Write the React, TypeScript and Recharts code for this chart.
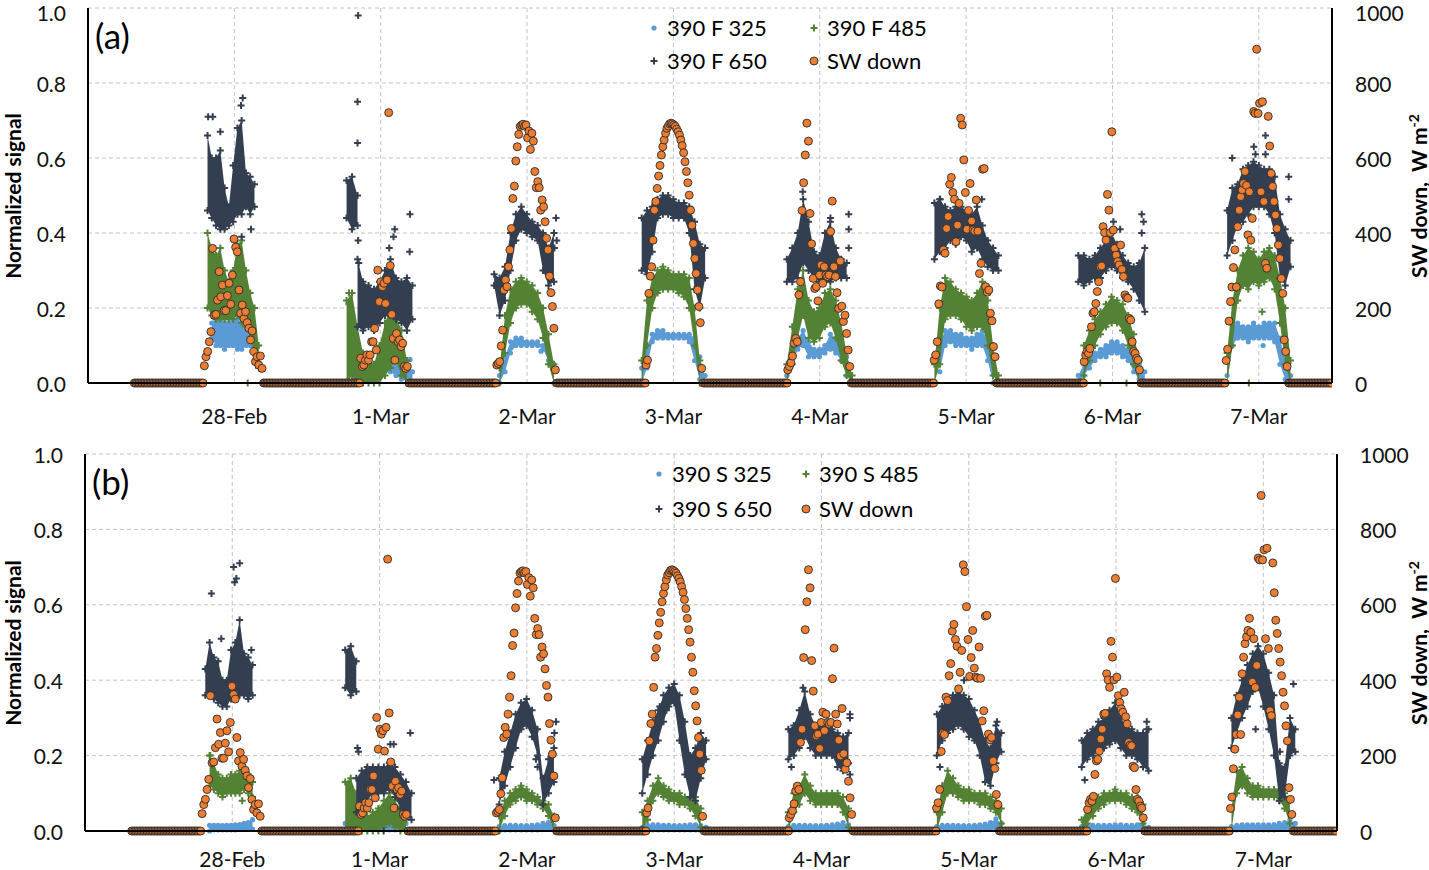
import React from "react";
import { Area, CartesianGrid, ComposedChart, Scatter, XAxis, YAxis } from "recharts";

const FONT = "Lato, 'Open Sans', sans-serif";
const BLUE = "#5B9BD5";
const GREEN = "#548235";
const NAVY = "#333F50";
const ORANGE = "#ED7D31";

// x axis: days since 27-Feb 00:00, gridline at each date
const dayLabels = ["28-Feb", "1-Mar", "2-Mar", "3-Mar", "4-Mar", "5-Mar", "6-Mar", "7-Mar"];
const dayTicks = [1, 2, 3, 4, 5, 6, 7, 8];
const signalTicks = [0, 0.2, 0.4, 0.6, 0.8, 1.0];
const swTicks = [0, 200, 400, 600, 800, 1000];

// daylight window of the signals (hours from the date gridline), 13 samples per day
const sigWin = [
  [-4.4, 4.0], [-5.6, 5.2], [-5.4, 5.3], [-5.2, 5.2],
  [-5.4, 5.3], [-5.2, 5.3], [-5.6, 5.3], [-5.2, 5.2],
];

type Pair = [number, number] | null;

// panel (a): 390 F, [low, high] of the point cloud at each sample
const f325: Pair[][] = [
  [null, [0.12, 0.16], [0.10, 0.17], [0.10, 0.17], [0.09, 0.16], [0.10, 0.16], [0.10, 0.17], [0.09, 0.17], [0.09, 0.16], [0.10, 0.15], [0.10, 0.14], [0.09, 0.12], null],
  [null, [0.00, 0.10], [0.00, 0.08], [0.01, 0.05], [0.02, 0.05], [0.02, 0.05], [0.02, 0.06], [0.03, 0.07], [0.03, 0.08], [0.02, 0.06], [0.01, 0.05], [0.01, 0.06], [0.00, 0.03]],
  [null, [0.00, 0.02], [0.03, 0.07], [0.08, 0.11], [0.10, 0.12], [0.10, 0.12], [0.10, 0.11], [0.10, 0.11], [0.10, 0.11], [0.09, 0.10], [0.06, 0.09], [0.00, 0.05], null],
  [[0.00, 0.04], [0.04, 0.10], [0.11, 0.13], [0.12, 0.14], [0.12, 0.14], [0.12, 0.13], [0.12, 0.13], [0.12, 0.13], [0.12, 0.13], [0.11, 0.13], [0.06, 0.12], [0.01, 0.07], [0.00, 0.02]],
  [[0.00, 0.02], [0.05, 0.09], [0.09, 0.12], [0.10, 0.14], [0.07, 0.11], [0.07, 0.09], [0.07, 0.09], [0.08, 0.10], [0.09, 0.13], [0.08, 0.12], [0.06, 0.10], [0.02, 0.07], null],
  [null, [0.03, 0.10], [0.10, 0.14], [0.11, 0.14], [0.10, 0.13], [0.10, 0.13], [0.10, 0.12], [0.09, 0.12], [0.10, 0.13], [0.10, 0.14], [0.06, 0.11], [0.00, 0.05], null],
  [[0.00, 0.02], [0.02, 0.05], [0.04, 0.07], [0.06, 0.08], [0.07, 0.09], [0.07, 0.10], [0.08, 0.11], [0.08, 0.11], [0.07, 0.10], [0.06, 0.09], [0.03, 0.07], [0.01, 0.05], [0.00, 0.03]],
  [[0.00, 0.02], [0.10, 0.15], [0.12, 0.16], [0.12, 0.15], [0.11, 0.15], [0.12, 0.16], [0.12, 0.15], [0.12, 0.16], [0.12, 0.16], [0.11, 0.16], [0.05, 0.12], [0.01, 0.06], [0.00, 0.02]],
];
const f485: Pair[][] = [
  [[0.20, 0.40], [0.18, 0.36], [0.17, 0.34], [0.17, 0.36], [0.17, 0.30], [0.17, 0.27], [0.17, 0.30], [0.18, 0.37], [0.16, 0.38], [0.15, 0.30], [0.12, 0.24], [0.08, 0.20], [0.04, 0.10]],
  [[0.00, 0.22], [0.02, 0.24], [0.00, 0.15], [0.00, 0.08], [0.00, 0.05], [0.00, 0.05], [0.00, 0.10], [0.02, 0.16], [0.04, 0.20], [0.06, 0.18], [0.02, 0.14], [0.00, 0.06], null],
  [null, [0.00, 0.04], [0.08, 0.18], [0.16, 0.25], [0.20, 0.27], [0.21, 0.28], [0.21, 0.27], [0.19, 0.26], [0.17, 0.24], [0.12, 0.20], [0.05, 0.13], [0.00, 0.05], null],
  [[0.00, 0.06], [0.10, 0.22], [0.20, 0.28], [0.24, 0.30], [0.25, 0.31], [0.25, 0.30], [0.25, 0.29], [0.24, 0.29], [0.23, 0.29], [0.20, 0.28], [0.10, 0.20], [0.00, 0.06], null],
  [[0.00, 0.05], [0.05, 0.15], [0.12, 0.25], [0.18, 0.30], [0.12, 0.22], [0.11, 0.19], [0.12, 0.20], [0.15, 0.24], [0.16, 0.25], [0.12, 0.22], [0.06, 0.16], [0.02, 0.08], [0.00, 0.02]],
  [[0.00, 0.05], [0.05, 0.20], [0.17, 0.28], [0.18, 0.27], [0.18, 0.25], [0.17, 0.24], [0.15, 0.23], [0.14, 0.22], [0.15, 0.24], [0.15, 0.27], [0.10, 0.22], [0.02, 0.10], [0.00, 0.02]],
  [null, [0.02, 0.10], [0.06, 0.14], [0.10, 0.17], [0.13, 0.19], [0.15, 0.21], [0.16, 0.23], [0.16, 0.22], [0.14, 0.21], [0.10, 0.18], [0.05, 0.13], [0.00, 0.06], null],
  [[0.00, 0.08], [0.10, 0.22], [0.22, 0.30], [0.26, 0.34], [0.25, 0.36], [0.27, 0.35], [0.26, 0.33], [0.27, 0.35], [0.28, 0.36], [0.25, 0.34], [0.16, 0.28], [0.05, 0.20], [0.00, 0.06]],
];
const f650: Pair[][] = [
  [[0.46, 0.66], [0.44, 0.60], [0.42, 0.60], [0.41, 0.62], [0.41, 0.52], [0.42, 0.47], [0.43, 0.58], [0.45, 0.68], [0.45, 0.70], [0.47, 0.56], [0.45, 0.55], [0.47, 0.53], null],
  [null, null, [0.15, 0.33], [0.14, 0.27], [0.15, 0.26], [0.14, 0.25], [0.16, 0.27], [0.18, 0.30], [0.18, 0.33], [0.17, 0.28], [0.16, 0.27], [0.14, 0.28], [0.17, 0.26]],
  [[0.26, 0.29], [0.18, 0.28], [0.22, 0.31], [0.30, 0.40], [0.38, 0.45], [0.41, 0.47], [0.40, 0.45], [0.39, 0.43], [0.38, 0.42], [0.30, 0.40], [0.26, 0.36], [0.27, 0.40], null],
  [[0.30, 0.44], [0.29, 0.46], [0.35, 0.47], [0.44, 0.49], [0.45, 0.50], [0.45, 0.50], [0.44, 0.49], [0.44, 0.48], [0.44, 0.48], [0.40, 0.47], [0.25, 0.43], [0.20, 0.37], [0.28, 0.36]],
  [[0.27, 0.33], [0.27, 0.36], [0.28, 0.40], [0.32, 0.49], [0.30, 0.43], [0.28, 0.35], [0.27, 0.34], [0.27, 0.40], [0.27, 0.43], [0.28, 0.36], [0.28, 0.33], [0.28, 0.32], null],
  [[0.33, 0.48], [0.35, 0.49], [0.36, 0.47], [0.38, 0.46], [0.37, 0.47], [0.39, 0.47], [0.38, 0.46], [0.35, 0.45], [0.36, 0.47], [0.33, 0.42], [0.31, 0.38], [0.30, 0.36], [0.30, 0.34]],
  [[0.27, 0.34], [0.26, 0.34], [0.27, 0.33], [0.28, 0.34], [0.28, 0.36], [0.30, 0.38], [0.31, 0.40], [0.30, 0.37], [0.28, 0.34], [0.27, 0.32], [0.25, 0.31], [0.22, 0.32], [0.19, 0.36]],
  [[0.34, 0.46], [0.38, 0.52], [0.42, 0.53], [0.43, 0.57], [0.45, 0.58], [0.47, 0.59], [0.47, 0.58], [0.47, 0.57], [0.45, 0.57], [0.40, 0.55], [0.28, 0.45], [0.26, 0.41], [0.31, 0.38]],
];
// separate early-morning 650 cluster on 1-Mar: [day, sample, low, high]
const f650Early = [[1, 0, 0.44, 0.54], [1, 1, 0.41, 0.55], [1, 2, 0.42, 0.50]];

// panel (b): 390 S
const s325: Pair[][] = [
  [null, [0, 0.015], [0.003, 0.015], [0.003, 0.015], [0.003, 0.014], [0.003, 0.015], [0.003, 0.015], [0.003, 0.016], [0.004, 0.017], [0.004, 0.02], [0.004, 0.022], [0.005, 0.03], null],
  [[0, 0.02], [0, 0.05], [0, 0.03], [0.003, 0.02], [0.003, 0.018], [0.003, 0.018], [0.003, 0.02], [0.003, 0.02], [0.003, 0.02], [0.003, 0.02], [0.003, 0.018], [0.003, 0.02], null],
  [null, [0, 0.012], [0.003, 0.014], [0.003, 0.015], [0.003, 0.015], [0.003, 0.014], [0.003, 0.014], [0.003, 0.015], [0.003, 0.016], [0.004, 0.02], [0.004, 0.022], [0.002, 0.015], null],
  [[0, 0.01], [0.002, 0.015], [0.003, 0.016], [0.003, 0.016], [0.003, 0.015], [0.003, 0.015], [0.003, 0.014], [0.003, 0.014], [0.003, 0.015], [0.003, 0.016], [0.003, 0.016], [0.002, 0.014], [0, 0.01]],
  [[0, 0.012], [0.003, 0.015], [0.003, 0.015], [0.003, 0.015], [0.003, 0.014], [0.003, 0.014], [0.003, 0.014], [0.003, 0.015], [0.003, 0.016], [0.004, 0.018], [0.004, 0.022], [0.003, 0.016], null],
  [[0, 0.012], [0.003, 0.015], [0.003, 0.015], [0.003, 0.015], [0.003, 0.014], [0.003, 0.014], [0.003, 0.014], [0.003, 0.015], [0.003, 0.016], [0.004, 0.018], [0.004, 0.022], [0.005, 0.032], [0.003, 0.02]],
  [[0, 0.012], [0.003, 0.015], [0.003, 0.015], [0.003, 0.015], [0.003, 0.015], [0.003, 0.015], [0.003, 0.016], [0.003, 0.016], [0.003, 0.015], [0.003, 0.015], [0.003, 0.016], [0.003, 0.018], [0, 0.01]],
  [[0, 0.012], [0.003, 0.015], [0.003, 0.016], [0.003, 0.016], [0.003, 0.016], [0.003, 0.016], [0.003, 0.016], [0.003, 0.016], [0.003, 0.017], [0.004, 0.02], [0.004, 0.022], [0.005, 0.03], [0.003, 0.02]],
];
const s485: Pair[][] = [
  [null, [0.12, 0.20], [0.11, 0.18], [0.10, 0.15], [0.09, 0.14], [0.10, 0.14], [0.10, 0.15], [0.10, 0.15], [0.10, 0.16], [0.11, 0.16], [0.10, 0.15], [0.09, 0.13], null],
  [[0.00, 0.13], [0.00, 0.14], [0.00, 0.10], [0.00, 0.06], [0.00, 0.04], [0.00, 0.05], [0.00, 0.06], [0.01, 0.08], [0.02, 0.10], [0.01, 0.08], [0.00, 0.06], [0.00, 0.03], null],
  [null, [0.00, 0.04], [0.04, 0.08], [0.07, 0.10], [0.08, 0.11], [0.09, 0.12], [0.08, 0.11], [0.08, 0.10], [0.07, 0.09], [0.06, 0.08], [0.04, 0.07], [0.00, 0.04], null],
  [[0.00, 0.05], [0.03, 0.08], [0.08, 0.12], [0.10, 0.14], [0.09, 0.12], [0.08, 0.11], [0.08, 0.10], [0.07, 0.10], [0.07, 0.09], [0.06, 0.09], [0.04, 0.09], [0.01, 0.06], null],
  [[0.00, 0.05], [0.05, 0.10], [0.07, 0.12], [0.10, 0.15], [0.08, 0.12], [0.07, 0.10], [0.07, 0.10], [0.07, 0.10], [0.07, 0.10], [0.07, 0.10], [0.05, 0.09], [0.01, 0.06], null],
  [[0.00, 0.05], [0.05, 0.12], [0.10, 0.16], [0.10, 0.14], [0.09, 0.12], [0.08, 0.11], [0.08, 0.11], [0.08, 0.10], [0.07, 0.10], [0.07, 0.10], [0.06, 0.09], [0.05, 0.08], [0.02, 0.06]],
  [[0.00, 0.03], [0.02, 0.06], [0.04, 0.08], [0.06, 0.09], [0.07, 0.10], [0.08, 0.10], [0.08, 0.11], [0.08, 0.10], [0.07, 0.10], [0.06, 0.09], [0.05, 0.09], [0.02, 0.07], null],
  [[0.00, 0.06], [0.10, 0.16], [0.12, 0.17], [0.10, 0.14], [0.09, 0.12], [0.09, 0.12], [0.09, 0.11], [0.09, 0.11], [0.09, 0.11], [0.08, 0.11], [0.06, 0.10], [0.02, 0.08], null],
];
const s650: Pair[][] = [
  [[0.36, 0.43], [0.37, 0.50], [0.35, 0.46], [0.34, 0.45], [0.33, 0.40], [0.33, 0.40], [0.35, 0.48], [0.36, 0.50], [0.36, 0.56], [0.36, 0.47], [0.35, 0.46], [0.36, 0.44], null],
  [null, null, [0.05, 0.14], [0.06, 0.16], [0.08, 0.17], [0.10, 0.17], [0.10, 0.17], [0.10, 0.17], [0.11, 0.18], [0.09, 0.17], [0.06, 0.15], [0.04, 0.13], [0.03, 0.10]],
  [null, [0.07, 0.14], [0.12, 0.21], [0.17, 0.26], [0.22, 0.31], [0.27, 0.34], [0.28, 0.35], [0.25, 0.32], [0.20, 0.27], [0.07, 0.14], [0.10, 0.19], [0.13, 0.22], null],
  [[0.10, 0.19], [0.15, 0.24], [0.20, 0.29], [0.24, 0.32], [0.29, 0.36], [0.33, 0.38], [0.34, 0.39], [0.24, 0.36], [0.15, 0.29], [0.09, 0.20], [0.08, 0.22], [0.14, 0.26], [0.19, 0.24]],
  [[0.19, 0.27], [0.20, 0.28], [0.22, 0.32], [0.25, 0.37], [0.22, 0.31], [0.20, 0.28], [0.20, 0.29], [0.20, 0.28], [0.20, 0.27], [0.17, 0.26], [0.16, 0.25], [0.18, 0.26], null],
  [[0.20, 0.31], [0.24, 0.33], [0.26, 0.35], [0.27, 0.36], [0.28, 0.37], [0.27, 0.36], [0.25, 0.35], [0.24, 0.32], [0.20, 0.29], [0.13, 0.24], [0.12, 0.22], [0.18, 0.28], [0.21, 0.26]],
  [[0.17, 0.24], [0.19, 0.26], [0.20, 0.27], [0.21, 0.29], [0.22, 0.30], [0.23, 0.32], [0.24, 0.34], [0.22, 0.30], [0.20, 0.28], [0.20, 0.27], [0.19, 0.26], [0.17, 0.26], [0.16, 0.27]],
  [[0.22, 0.30], [0.26, 0.36], [0.30, 0.40], [0.33, 0.44], [0.37, 0.47], [0.38, 0.49], [0.33, 0.47], [0.27, 0.42], [0.20, 0.36], [0.08, 0.18], [0.09, 0.17], [0.20, 0.30], [0.21, 0.27]],
];
const s650Early = [[1, 0, 0.38, 0.48], [1, 1, 0.36, 0.49], [1, 2, 0.37, 0.45]];

// stray points: [day index, hour from gridline, value]
const fOut325 = [[1, 4.8, 0.063], [2, 2.3, 0.085], [7, 0.7, 0.10], [7, 2.35, 0.12]];
const fOut485 = [[0, 2.19, 0], [1, -5.2, 0.24], [1, -5.2, 0.21], [6, -2.0, 0], [6, 2.3, 0], [7, -1.64, 0], [7, 0.55, 0.19]];
const fOut650 = [
  [0, -4.3, 0.71], [0, -3.55, 0.71], [0, -2.3, 0.67], [0, 1.37, 0.76], [0, 1.1, 0.74], [0, 2.73, 0.41], [0, 1.2, 0.39],
  [1, -3.7, 0.98], [1, -3.8, 0.75], [1, -3.8, 0.64], [1, 4.8, 0.45], [1, 2.3, 0.41], [1, 2.1, 0.39], [1, 4.75, 0.35], [1, 1.4, 0.36], [1, -3.7, 0.38], [1, -3.6, 0.32],
  [2, 4.75, 0.44], [2, 4.86, 0.38], [2, 4.5, 0.36],
  [4, 4.75, 0.45], [4, 4.75, 0.41], [4, 4.75, 0.36], [4, -2.8, 0.51], [4, 1.75, 0.44],
  [5, -4.26, 0.49], [5, 2.57, 0.49],
  [6, 4.8, 0.45], [6, 4.8, 0.40], [6, 5.1, 0.43], [6, 0.16, 0.43], [6, 1.26, 0.41],
  [7, -4.37, 0.6], [7, -0.82, 0.63], [7, 1.09, 0.66], [7, 1.09, 0.61], [7, -0.55, 0.61], [7, 4.9, 0.55], [7, 4.9, 0.49],
];
const sOut325: number[][] = [];
const sOut485 = [[0, -3.6, 0.20], [0, 1.6, 0.08]];
const sOut650 = [
  [0, -3.4, 0.63], [0, -1.8, 0.51], [0, 0.22, 0.70], [0, 1.2, 0.71], [0, 0.38, 0.66], [0, 0.66, 0.67], [0, 3.1, 0.48],
  [1, -3.6, 0.22], [1, -3.44, 0.21], [1, 1.75, 0.23], [1, 2.3, 0.23], [1, 5.0, 0.26], [1, 0.66, 0.0],
  [2, -5.36, 0.135], [2, 1.48, 0.19], [2, 1.75, 0.17], [2, 4.75, 0.29], [2, 4.48, 0.26],
  [3, -2.35, 0.33], [3, -1.26, 0.32],
  [4, -4.9, 0.17], [4, -3.0, 0.38], [4, 4.64, 0.31], [4, 4.64, 0.30], [4, 4.64, 0.15],
  [5, -4.7, 0.17], [5, -0.77, 0.40], [5, 4.6, 0.29],
  [6, -5.1, 0.135], [6, 5.0, 0.29], [6, 5.0, 0.27],
  [7, -1.26, 0.27], [7, 4.9, 0.39], [7, 2.2, 0.21], [7, 2.7, 0.21],
];

// SW down (W m-2), 15-min record; zero at night
const swRecordStart = -16.4; // hours from the 28-Feb gridline
const swStart = [-4.92, -3.28, -4.97, -4.48, -5.25, -5.25, -4.64, -5.36];
const swEnd = [4.54, 4.37, 4.64, 4.64, 4.92, 4.75, 4.43, 4.64];
const swDay = [
  [46, 70, 84, 110, 137, 359, 181, 183, 221, 297, 230, 261, 193, 193, 233, 266, 210, 288, 384, 362, 350, 248, 186, 208, 172, 190, 161, 146, 115, 139, 84, 57, 70, 48, 72, 39],
  [66, 44, 48, 61, 75, 61, 75, 110, 110, 146, 88, 301, 217, 270, 257, 266, 212, 275, 721, 313, 183, 119, 61, 132, 110, 115, 97, 106, 44, 39, 44],
  [48, 52, 57, 99, 141, 248, 275, 257, 310, 355, 412, 492, 525, 592, 630, 663, 684, 688, 690, 685, 688, 654, 672, 623, 666, 645, 564, 521, 537, 521, 461, 488, 470, 430, 386, 355, 285, 241, 204, 146, 35],
  [48, 61, 239, 285, 310, 381, 461, 484, 519, 552, 580, 608, 630, 648, 666, 679, 685, 691, 693, 691, 688, 684, 677, 670, 661, 648, 633, 614, 590, 564, 534, 501, 461, 421, 372, 332, 292, 248, 204, 161, 39],
  [35, 44, 54, 72, 106, 119, 110, 235, 270, 460, 534, 608, 693, 645, 452, 371, 279, 252, 257, 219, 288, 315, 266, 310, 288, 284, 288, 404, 485, 310, 284, 241, 199, 325, 205, 164, 181, 132, 88, 44],
  [61, 75, 110, 211, 259, 256, 355, 346, 412, 444, 530, 548, 508, 490, 377, 421, 479, 706, 688, 595, 508, 410, 460, 532, 432, 408, 405, 488, 405, 292, 319, 570, 572, 257, 242, 248, 186, 166, 97, 70],
  [57, 75, 84, 79, 92, 150, 186, 190, 212, 244, 270, 310, 312, 417, 401, 381, 503, 461, 401, 670, 408, 359, 341, 324, 315, 368, 303, 284, 235, 228, 226, 172, 168, 110, 84, 79, 66, 61, 35],
  [60, 90, 165, 217, 256, 308, 355, 256, 417, 461, 497, 515, 532, 564, 527, 395, 510, 381, 439, 724, 719, 890, 719, 746, 510, 750, 484, 319, 306, 711, 632, 559, 524, 484, 448, 412, 368, 332, 279, 239, 115, 84, 44],
];

const SAMPLES = 13;
const X_END = 8.5;

function sampleTime(d: number, i: number) {
  const [a, b] = sigWin[d];
  return d + 1 + (a + (i * (b - a)) / (SAMPLES - 1)) / 24;
}

function earlyAt(early: number[][], d: number, i: number): Pair {
  const hit = early.find((e) => e[0] === d && e[1] === i);
  return hit ? [hit[2], hit[3]] : null;
}

function buildTable(c325: Pair[][], c485: Pair[][], c650: Pair[][], early: number[][]) {
  const rows: any[] = [];
  for (let d = 0; d < 8; d++) {
    for (let i = 0; i < SAMPLES; i++) {
      rows.push({
        t: sampleTime(d, i),
        c325: c325[d][i],
        c485: c485[d][i],
        c650: c650[d][i],
        c650e: earlyAt(early, d, i),
      });
    }
    rows.push({ t: d + 1.5, c325: null, c485: null, c650: null, c650e: null });
  }
  return rows;
}

function edgePoints(series: Pair[][], extra: number[][], early: number[][] = []) {
  const pts: { t: number; v: number }[] = [];
  series.forEach((day, d) =>
    day.forEach((p, i) => {
      if (!p) return;
      const t = sampleTime(d, i);
      pts.push({ t, v: p[0] }, { t, v: p[1] });
    })
  );
  early.forEach(([d, i, lo, hi]) => {
    const t = sampleTime(d, i);
    pts.push({ t, v: lo }, { t, v: hi });
  });
  extra.forEach(([d, h, v]) => pts.push({ t: d + 1 + h / 24, v }));
  return pts;
}

function buildSw() {
  const step = 0.25 / 24;
  const pts: { t: number; v: number }[] = [];
  let cursor = 1 + swRecordStart / 24;
  for (let d = 0; d < 8; d++) {
    const a = d + 1 + swStart[d] / 24;
    const b = d + 1 + swEnd[d] / 24;
    for (let t = cursor; t < a - 1e-6; t += step) pts.push({ t, v: 0 });
    const vals = swDay[d];
    vals.forEach((v, i) => pts.push({ t: a + ((b - a) * i) / (vals.length - 1), v }));
    cursor = b + step;
  }
  for (let t = cursor; t <= X_END; t += step) pts.push({ t, v: 0 });
  return pts;
}

const swPoints = buildSw();

const plusShape = (color: string) => (p: any) =>
  p.cx == null ? <g /> : (
    <path
      d={`M${p.cx - 3.5},${p.cy}H${p.cx + 3.5}M${p.cx},${p.cy - 3.5}V${p.cy + 3.5}`}
      stroke={color}
      strokeWidth={2}
      fill="none"
    />
  );
const dotShape = (p: any) => (p.cx == null ? <g /> : <circle cx={p.cx} cy={p.cy} r={2.6} fill={BLUE} />);
const swShape = (p: any) =>
  p.cx == null ? <g /> : <circle cx={p.cx} cy={p.cy} r={4} fill={ORANGE} stroke="#2b2b2b" strokeWidth={0.9} />;

const axisLine = { stroke: "#000", strokeWidth: 2 };
const tickText = { fontFamily: FONT, fontSize: 21, fill: "#111" };

interface PanelProps {
  top: number;
  height: number;
  plotTop: number;
  minTickY: number;
  leftW: number;
  rightW: number;
  xAxisH: number;
  labelDy: number;
  table: any[];
  p325: { t: number; v: number }[];
  p485: { t: number; v: number }[];
  p650: { t: number; v: number }[];
  tag: string;
  names: string[];
  legendX: [number, number];
  legendY: [number, number];
}

function LegendMark({ kind }: { kind: string }) {
  return (
    <svg width={14} height={14} style={{ position: "absolute", left: -7, top: -7 }}>
      {kind === "dot" && <circle cx={7} cy={7} r={2.6} fill={BLUE} />}
      {kind === "green" && <path d="M3.5,7H10.5M7,3.5V10.5" stroke={GREEN} strokeWidth={2} />}
      {kind === "navy" && <path d="M3.5,7H10.5M7,3.5V10.5" stroke={NAVY} strokeWidth={2} />}
      {kind === "sw" && <circle cx={7} cy={7} r={4} fill={ORANGE} stroke="#2b2b2b" strokeWidth={0.9} />}
    </svg>
  );
}

function Panel(props: PanelProps) {
  const { top, height, plotTop, minTickY, leftW, rightW, xAxisH, labelDy, table, p325, p485, p650, tag, names, legendX, legendY } = props;
  const plotBottom = height - xAxisH;
  const midY = (plotTop + plotBottom) / 2;
  const tickY = (y: number) => Math.max(y, minTickY);
  const entries = [
    { kind: "dot", name: names[0], x: legendX[0], y: legendY[0] },
    { kind: "green", name: names[1], x: legendX[1], y: legendY[0] },
    { kind: "navy", name: names[2], x: legendX[0], y: legendY[1] },
    { kind: "sw", name: "SW down", x: legendX[1], y: legendY[1] },
  ];
  return (
    <div style={{ position: "absolute", left: 0, top, width: 1429, height }}>
      <ComposedChart width={1429} height={height} data={table} margin={{ top: plotTop, right: 0, bottom: 0, left: 0 }}>
        <CartesianGrid stroke="#c4c4c4" strokeDasharray="4 3" />
        <XAxis
          dataKey="t"
          type="number"
          domain={[0, X_END]}
          allowDataOverflow
          ticks={dayTicks}
          interval={0}
          height={xAxisH}
          tickLine={false}
          tickSize={0}
          tickMargin={0}
          axisLine={axisLine}
          tick={(tp: any) => (
            <text x={tp.x} y={tp.y + labelDy} textAnchor="middle" dominantBaseline="central" style={tickText}>
              {dayLabels[tp.payload.value - 1]}
            </text>
          )}
        />
        <XAxis
          xAxisId="top"
          orientation="top"
          type="number"
          domain={[0, X_END]}
          height={0}
          tick={false}
          tickLine={false}
          axisLine={axisLine}
        />
        <YAxis
          type="number"
          domain={[0, 1]}
          ticks={signalTicks}
          interval={0}
          width={leftW}
          tickLine={false}
          tickSize={0}
          tickMargin={0}
          axisLine={axisLine}
          tick={(tp: any) => (
            <text x={tp.x - 22} y={tickY(tp.y)} textAnchor="end" dominantBaseline="central" style={tickText}>
              {Number(tp.payload.value).toFixed(1)}
            </text>
          )}
        />
        <YAxis
          yAxisId="sw"
          orientation="right"
          type="number"
          domain={[0, 1000]}
          ticks={swTicks}
          interval={0}
          width={rightW}
          tickLine={false}
          tickSize={0}
          tickMargin={0}
          axisLine={axisLine}
          tick={(tp: any) => (
            <text x={tp.x + 23} y={tickY(tp.y)} textAnchor="start" dominantBaseline="central" style={tickText}>
              {tp.payload.value}
            </text>
          )}
        />
        <Area dataKey="c325" type="linear" stroke="none" fill={BLUE} fillOpacity={1} dot={false} activeDot={false} isAnimationActive={false} zIndex={101} />
        <Scatter data={p325} dataKey="v" shape={dotShape} isAnimationActive={false} zIndex={102} />
        <Area dataKey="c485" type="linear" stroke="none" fill={GREEN} fillOpacity={1} dot={false} activeDot={false} isAnimationActive={false} zIndex={103} />
        <Scatter data={p485} dataKey="v" shape={plusShape(GREEN)} isAnimationActive={false} zIndex={104} />
        <Area dataKey="c650" type="linear" stroke="none" fill={NAVY} fillOpacity={1} dot={false} activeDot={false} isAnimationActive={false} zIndex={105} />
        <Area dataKey="c650e" type="linear" stroke="none" fill={NAVY} fillOpacity={1} dot={false} activeDot={false} isAnimationActive={false} zIndex={105} />
        <Scatter data={p650} dataKey="v" shape={plusShape(NAVY)} isAnimationActive={false} zIndex={106} />
        <Scatter yAxisId="sw" data={swPoints} dataKey="v" shape={swShape} isAnimationActive={false} zIndex={107} />
      </ComposedChart>

      <div style={{ position: "absolute", left: leftW + 7, top: plotTop + 2, fontFamily: FONT, fontSize: 35, color: "#000", lineHeight: "50px" }}>
        {tag}
      </div>

      {entries.map((e) => (
        <div key={e.name} style={{ position: "absolute", left: e.x, top: e.y, width: 0, height: 0 }}>
          <LegendMark kind={e.kind} />
          <span
            style={{
              position: "absolute",
              left: 13,
              top: -15,
              fontFamily: FONT,
              fontSize: 22,
              lineHeight: "30px",
              whiteSpace: "nowrap",
              color: "#000",
            }}
          >
            {e.name}
          </span>
        </div>
      ))}

      <div
        style={{
          position: "absolute",
          left: 12,
          top: midY,
          transform: "translate(-50%, -50%) rotate(-90deg)",
          fontFamily: FONT,
          fontWeight: 700,
          fontSize: 21,
          whiteSpace: "nowrap",
          color: "#000",
        }}
      >
        Normalized signal
      </div>
      <div
        style={{
          position: "absolute",
          left: 1418,
          top: midY,
          transform: "translate(-50%, -50%) rotate(-90deg)",
          fontFamily: FONT,
          fontWeight: 700,
          fontSize: 21,
          whiteSpace: "nowrap",
          color: "#000",
        }}
      >
        SW down,&nbsp;&nbsp;W m<sup style={{ fontSize: 14 }}>-2</sup>
      </div>
    </div>
  );
}

const tableF = buildTable(f325, f485, f650, f650Early);
const tableS = buildTable(s325, s485, s650, s650Early);

export default function App() {
  return (
    <div style={{ position: "absolute", left: 0, top: 0, width: 1429, height: 870, background: "#fff" }}>
      <Panel
        top={0}
        height={440}
        plotTop={8}
        minTickY={12}
        leftW={88}
        rightW={97}
        xAxisH={57}
        labelDy={32}
        table={tableF}
        p325={edgePoints(f325, fOut325)}
        p485={edgePoints(f485, fOut485)}
        p650={edgePoints(f650, fOut650, f650Early)}
        tag="(a)"
        names={["390 F 325", "390 F 485", "390 F 650"]}
        legendX={[654, 814]}
        legendY={[28, 61]}
      />
      <Panel
        top={434}
        height={436}
        plotTop={20}
        minTickY={0}
        leftW={85}
        rightW={92}
        xAxisH={39}
        labelDy={27}
        table={tableS}
        p325={edgePoints(s325, sOut325)}
        p485={edgePoints(s485, sOut485)}
        p650={edgePoints(s650, sOut650, s650Early)}
        tag="(b)"
        names={["390 S 325", "390 S 485", "390 S 650"]}
        legendX={[659, 806]}
        legendY={[40, 75]}
      />
    </div>
  );
}
